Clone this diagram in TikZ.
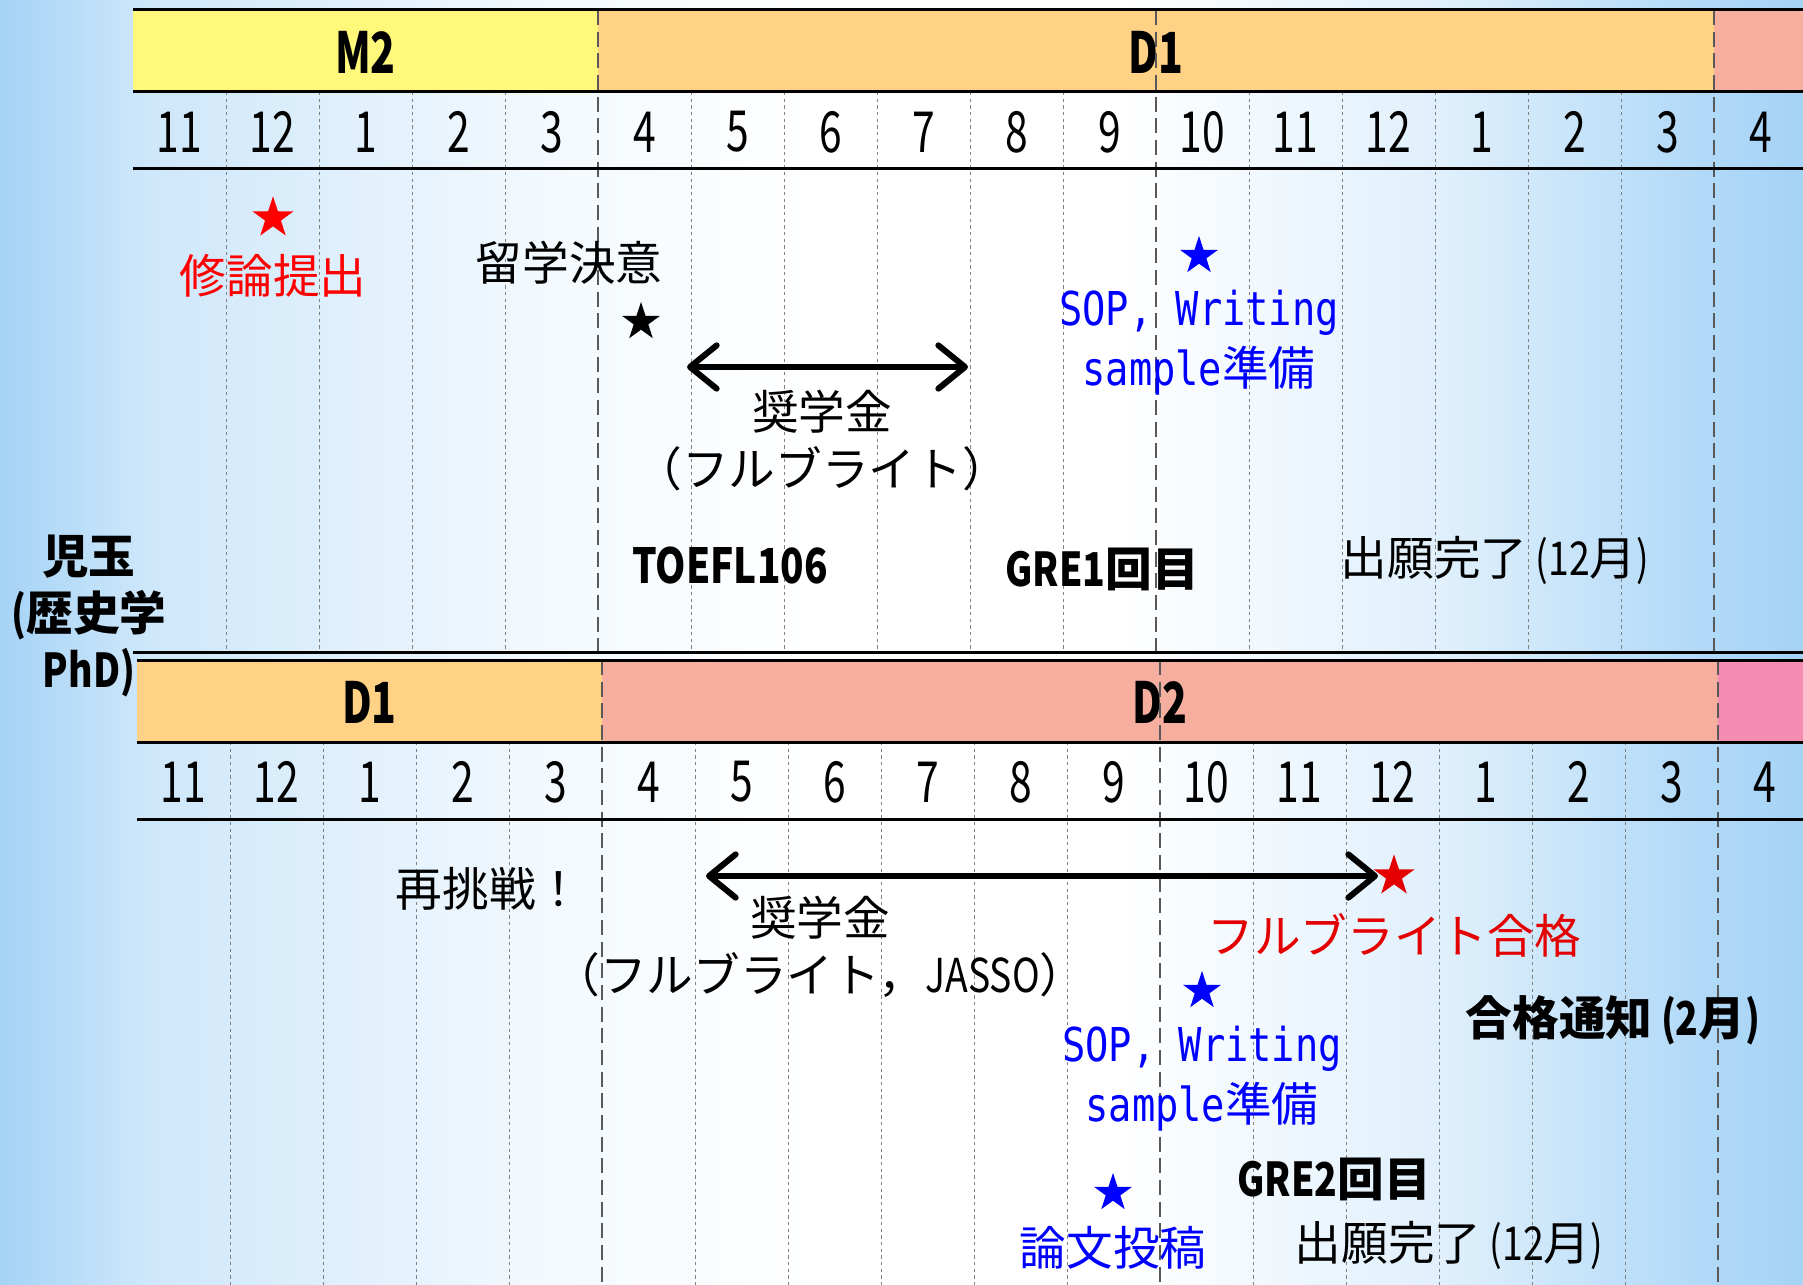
\documentclass[tikz,border=0pt]{standalone}
\usepackage{fontspec}
\setmainfont{Noto Sans CJK JP}
\newfontfamily\condfont[FakeStretch=0.8]{Noto Sans CJK JP}
\newfontfamily\digitfont[FakeStretch=0.72]{Noto Sans CJK JP}
\newfontfamily\sopfont[FakeStretch=0.83]{DejaVu Sans Mono}
\usetikzlibrary{shapes.geometric,arrows.meta}
\definecolor{bgblue}{RGB}{165,211,246}
\definecolor{m2col}{RGB}{255,248,122}
\definecolor{d1col}{RGB}{255,210,133}
\definecolor{d2col}{RGB}{246,174,158}
\definecolor{d3col}{RGB}{243,141,178}
\definecolor{passred}{RGB}{228,0,0}
\pgfdeclarehorizontalshading{bgshade}{100bp}{color(0bp)=(bgblue); color(25bp)=(bgblue); color(29bp)=(bgblue!55!white); color(40bp)=(bgblue!14!white); color(47.5bp)=(white); color(56bp)=(white); color(65bp)=(bgblue!35!white); color(72bp)=(bgblue!85!white); color(75bp)=(bgblue); color(100bp)=(bgblue)}
\tikzset{
  txt/.style={inner sep=0pt, font=\fontsize{14}{17}\selectfont},
  btxt/.style={inner sep=0pt, font=\fontsize{14}{17}\selectfont\bfseries},
  month/.style={inner sep=0pt, font=\digitfont\fontsize{17}{17}\selectfont},
  bandlab/.style={inner sep=0pt, font=\digitfont\bfseries\fontsize{17}{17}\selectfont},
  starmark/.style={star, star points=5, star point ratio=2.6, fill, draw=none, inner sep=0pt, minimum size=13pt},
  monthline/.style={gray, line width=0.3pt, dash pattern=on 1pt off 1pt},
  yearline/.style={black!65, line width=0.8pt, dash pattern=on 4.5pt off 2pt},
  panelrule/.style={black, line width=0.9pt},
  fundarrow/.style={{Straight Barb[length=8pt,width=13pt,round]}-{Straight Barb[length=8pt,width=13pt,round]}, line width=1.8pt, line cap=round},
}
\begin{document}
\begin{tikzpicture}[x=0.3pt,y=0.3pt,yscale=-1]
  \useasboundingbox (0,0) rectangle (1803,1285);
  % background
  \shade[shading=bgshade] (0,0) rectangle (1803,1285);
  \clip (0,0) rectangle (1803,1285);
  % two year panels
  \foreach \p/\dx/\dy/\ca/\cb/\cc/\la/\lb in {t/0/0/m2col/d1col/d2col/M2/D1, b/4/650/d1col/d2col/d3col/D1/D2} {
    \begin{scope}[shift={(\dx,\dy)}]
      \fill[\ca] (133,10) rectangle (598,92);
      \fill[\cb] (598,10) rectangle (1714,92);
      \fill[\cc] (1714,10) rectangle (1807,92);
      \node[bandlab] (\p-la) at (365.5,52) {\la};
      \node[bandlab] (\p-lb) at (1156,52) {\lb};
      \foreach \i in {1,2,3,4,6,7,8,9,10,12,13,14,15,16}
        \draw[monthline] ({133+93*\i},92) -- ({133+93*\i},652);
      \foreach \i in {5,11,17}
        \draw[yearline] ({133+93*\i},10) -- ({133+93*\i},652);
      \foreach \m [count=\i from 0] in {11,12,1,2,3,4,5,6,7,8,9,10,11,12,1,2,3,4}
        \node[month] (\p-m\i) at ({179.5+93*\i},132) {\m};
      \draw[panelrule] (133,10) -- (1807,10);
      \draw[panelrule] (133,92) -- (1807,92);
      \draw[panelrule] (133,169) -- (1807,169);
      \draw[panelrule] (133,652) -- (1807,652);
    \end{scope}
  }
  % name
  \node[btxt, align=center] (name) at (89,616) {児玉\\{\condfont (}歴史学\\{\condfont PhD)}};
  % first year
  \node[starmark, red] (thesis-star) at (273,218) {};
  \node[txt, red] (thesis) at (273,276) {修論提出};
  \node[txt] (decide) at (569,263) {留学決意};
  \node[starmark, black, minimum size=12pt] (decide-star) at (641,322) {};
  \coordinate (fund1-a) at (687,367);
  \coordinate (fund1-b) at (968,367);
  \draw[fundarrow] (fund1-a) -- (fund1-b);
  \node[txt] (fund1) at (822,412) {奨学金};
  \node[txt] (fund1-name) at (822,469) {（フルブライト）};
  \node[btxt, font=\condfont\bfseries\fontsize{14.5}{17}\selectfont] (toefl) at (730,566) {TOEFL106};
  \node[btxt] (gre1) at (1102,569) {{\condfont GRE1}回目};
  \node[starmark, blue, minimum size=12pt] (sop1-star) at (1199,256) {};
  \node[txt, blue] (sop1) at (1199,313) {{\sopfont SOP, Writing}};
  \node[txt, blue] (sop1-b) at (1199,371) {{\sopfont sample}準備};
  \node[txt] (apply1) at (1495,560) {出願完了{\condfont\ (12}月{\condfont )}};
  % second year
  \node[txt] (retry) at (489,889) {再挑戦！};
  \node[starmark, passred] (pass-star) at (1394,876) {};
  \coordinate (fund2-a) at (706,876);
  \coordinate (fund2-b) at (1378,876);
  \draw[fundarrow] (fund2-a) -- (fund2-b);
  \node[txt, passred] (pass) at (1394,935) {フルブライト合格};
  \node[txt] (fund2) at (820,918) {奨学金};
  \node[txt] (fund2-name) at (820,975) {（フルブライト，{\condfont JASSO}）};
  \node[starmark, blue, minimum size=12pt] (sop2-star) at (1202,991) {};
  \node[txt, blue] (sop2) at (1202,1049) {{\sopfont SOP, Writing}};
  \node[txt, blue] (sop2-b) at (1202,1107) {{\sopfont sample}準備};
  \node[btxt] (notice) at (1613,1020) {合格通知{\condfont\ (2}月{\condfont )}};
  \node[btxt] (gre2) at (1334,1179) {{\condfont GRE2}回目};
  \node[starmark, blue, minimum size=12pt] (paper-star) at (1113,1193) {};
  \node[txt, blue] (paper) at (1113,1248) {論文投稿};
  \node[txt] (apply2) at (1449,1245) {出願完了{\condfont\ (12}月{\condfont )}};
\end{tikzpicture}
\end{document}
